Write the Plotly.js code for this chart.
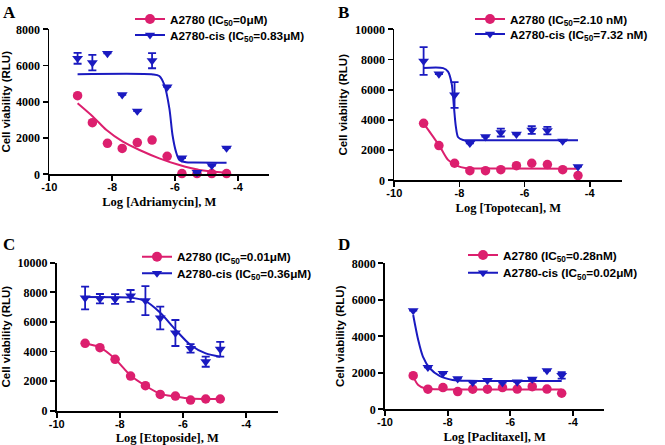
<!DOCTYPE html>
<html>
<head>
<meta charset="utf-8">
<script src="https://cdn.plot.ly/plotly-3.0.1.min.js"></script>
<style>html,body{margin:0;padding:0;background:#fff;}#chart{width:665px;height:445px;}</style>
</head>
<body>
<div id="chart"></div>
<script>
// ---------- data ----------
const logConc = [-9.10, -8.63, -8.15, -7.68, -7.20, -6.73, -6.25, -5.78, -5.30, -4.83, -4.36];
const logConcEto = [-9.10, -8.63, -8.15, -7.66, -7.19, -6.72, -6.24, -5.76, -5.28, -4.82];

// A: Adriamycin
const adriaA2780 = [4340, 2850, 1710, 1430, 1750, 1890, 990, 40, 40, 40, 40];
const adriaCis = [6400, 6160, 6670, 4390, 3490, 6270, 4820, 900, 100, 480, 1450];
const adriaCisErr = [300, 430, 0, 0, 0, 420, 0, 0, 0, 0, 0];
const adriaFitRedX = [-9.10, -8.61, -8.18, -7.66, -7.13, -6.50, -5.86, -5.23, -4.36];
const adriaFitRedY = [3920, 3180, 2440, 1800, 1340, 880, 510, 240, 90];
const adriaFitBlueX = [-9.10, -6.70, -6.50, -6.34, -6.18, -6.08, -5.97, -5.86, -5.65, -5.40, -4.36];
const adriaFitBlueY = [5520, 5510, 5420, 4930, 3640, 2170, 1250, 790, 660, 645, 640];

// B: Topotecan
const topoA2780 = [3770, 2300, 1130, 640, 640, 700, 970, 1130, 1040, 700, 310];
const topoCis = [7900, 7040, 5650, 2450, 2890, 3160, 3050, 3330, 3290, 2600, 900];
const topoCisErr = [920, 0, 850, 0, 0, 260, 0, 250, 250, 0, 0];
const topoFitRedX = [-9.10, -8.81, -8.60, -8.35, -8.09, -7.79, -7.40, -4.36];
const topoFitRedY = [3770, 2890, 2230, 1350, 970, 800, 785, 770];
const topoFitBlueX = [-9.10, -8.50, -8.35, -8.24, -8.17, -8.11, -8.04, -7.89, -7.60, -4.36];
const topoFitBlueY = [7440, 7430, 7200, 6420, 4880, 3550, 2850, 2670, 2660, 2660];

// C: Etoposide
const etoA2780 = [4550, 4260, 3470, 2340, 1690, 1100, 990, 720, 790, 790];
const etoCis = [7615, 7565, 7545, 7755, 7440, 6265, 5250, 4210, 3310, 4155];
const etoCisErr = [770, 320, 330, 400, 980, 770, 880, 290, 340, 500];
const etoFitRedX = [-9.10, -8.63, -8.15, -7.66, -7.19, -6.72, -6.24, -5.76, -5.28, -4.82];
const etoFitRedY = [4540, 4280, 3500, 2380, 1690, 1140, 960, 820, 790, 785];
const etoFitBlueX = [-9.10, -8.15, -7.65, -7.19, -6.72, -6.24, -5.76, -5.28, -4.82];
const etoFitBlueY = [7680, 7670, 7640, 7400, 6620, 5480, 4440, 3870, 3650];

// D: Paclitaxel
const paclA2780 = [1840, 1100, 1190, 970, 1100, 1100, 1190, 1110, 1240, 1110, 880];
const paclCis = [5410, 2300, 1970, 1680, 1480, 1590, 1460, 1500, 1660, 2120, 1860];
const paclCisErr = [0, 0, 0, 0, 0, 0, 0, 0, 0, 0, 180];
const paclFitRedX = [-9.10, -8.94, -8.73, -8.36, -7.80, -4.36];
const paclFitRedY = [1790, 1330, 1150, 1100, 1090, 1080];
const paclFitBlueX = [-9.10, -8.94, -8.79, -8.57, -8.26, -7.84, -7.31, -4.36];
const paclFitBlueY = [5170, 3800, 2890, 2250, 1830, 1610, 1560, 1550];

const xTicks = [-10, -8, -6, -4];
const panelLetters = ['A', 'B', 'C', 'D'];
const drugNames = ['Adriamycin', 'Topotecan', 'Etoposide', 'Paclitaxel'];
const legendRed = ['A2780 (IC<sub>50</sub>=0μM)', 'A2780 (IC<sub>50</sub>=2.10 nM)', 'A2780 (IC<sub>50</sub>=0.01μM)', 'A2780 (IC<sub>50</sub>=0.28nM)'];
const legendBlue = ['A2780-cis (IC<sub>50</sub>=0.83μM)', 'A2780-cis (IC<sub>50</sub>=7.32 nM)', 'A2780-cis (IC<sub>50</sub>=0.36μM)', 'A2780-cis (IC<sub>50</sub>=0.02μM)'];
const yMax = [8000, 10000, 10000, 8000];

// ---------- styling ----------
const RED = '#DC1F6E';
const BLUE = '#1A1AC0';
const W = 665, H = 445;
// plot areas in pixels [x0, x1, yTop, yBottom]
const areas = [[49.3, 269.3, 29.3, 174.3], [394.3, 622.3, 29.3, 180.3], [56.7, 277.7, 262.7, 410.7], [385, 604.3, 263.3, 409.3]];
const letterPos = [[1, 1], [336, 1], [1, 233], [336, 233]];
const legendPos = [[170, 19, 35], [510, 19, 34], [177, 256.7, 273.3], [503, 255, 272.7]];

const panels = [
  {x: logConc, red: adriaA2780, blue: adriaCis, err: adriaCisErr, frx: adriaFitRedX, fry: adriaFitRedY, fbx: adriaFitBlueX, fby: adriaFitBlueY},
  {x: logConc, red: topoA2780, blue: topoCis, err: topoCisErr, frx: topoFitRedX, fry: topoFitRedY, fbx: topoFitBlueX, fby: topoFitBlueY},
  {x: logConcEto, red: etoA2780, blue: etoCis, err: etoCisErr, frx: etoFitRedX, fry: etoFitRedY, fbx: etoFitBlueX, fby: etoFitBlueY},
  {x: logConc, red: paclA2780, blue: paclCis, err: paclCisErr, frx: paclFitRedX, fry: paclFitRedY, fbx: paclFitBlueX, fby: paclFitBlueY}
];

const traces = [];
const layout = {
  width: W, height: H,
  margin: {l: 0, r: 0, t: 0, b: 0},
  paper_bgcolor: '#fff', plot_bgcolor: 'rgba(0,0,0,0)',
  showlegend: true,
  annotations: []
};

panels.forEach((p, i) => {
  const n = i === 0 ? '' : String(i + 1);
  const xa = 'x' + n, ya = 'y' + n;
  const a = areas[i];
  layout['xaxis' + n] = {
    domain: [a[0] / W, a[1] / W], anchor: ya,
    range: [-10, -3], tickvals: xTicks, ticktext: xTicks.map(String),
    showline: true, linecolor: '#000', linewidth: 1.8,
    ticks: 'outside', ticklen: 5, tickwidth: 1.8, tickcolor: '#000',
    ticklabelstandoff: -3,
    showgrid: false, zeroline: false,
    tickfont: {family: 'Liberation Sans, Arial, sans-serif', size: 11, color: '#000', weight: 'bold'},
    title: {text: 'Log [' + drugNames[i] + '], M', standoff: 5,
            font: {family: 'Liberation Serif, Times New Roman, serif', size: 12.5, color: '#000', weight: 'bold'}}
  };
  layout['yaxis' + n] = {
    domain: [1 - a[3] / H, 1 - a[2] / H], anchor: xa,
    range: [0, yMax[i]], dtick: 2000, tickformat: 'd',
    showline: true, linecolor: '#000', linewidth: 1.8,
    ticks: 'outside', ticklen: 5, tickwidth: 1.8, tickcolor: '#000',
    showgrid: false, zeroline: false,
    tickfont: {family: 'Liberation Serif, Times New Roman, serif', size: 12, color: '#000', weight: 'bold'},
    title: {text: 'Cell viability (RLU)', standoff: 5,
            font: {family: 'Liberation Sans, Arial, sans-serif', size: 11.5, color: '#000', weight: 'bold'}}
  };

  traces.push({type: 'scatter', mode: 'lines', x: p.frx, y: p.fry, xaxis: xa, yaxis: ya,
    line: {color: RED, width: 2, shape: 'spline', smoothing: 0.8}, showlegend: false, hoverinfo: 'skip'});
  traces.push({type: 'scatter', mode: 'lines', x: p.fbx, y: p.fby, xaxis: xa, yaxis: ya,
    line: {color: BLUE, width: 2, shape: 'spline', smoothing: 0.8}, showlegend: false, hoverinfo: 'skip'});
  traces.push({type: 'scatter', mode: 'markers', x: p.x, y: p.red, xaxis: xa, yaxis: ya,
    marker: {color: RED, size: 9.5, symbol: 'circle'}, showlegend: false, cliponaxis: false});
  traces.push({type: 'scatter', mode: 'markers', x: p.x, y: p.blue, xaxis: xa, yaxis: ya,
    marker: {color: BLUE, size: 9.5, symbol: 'triangle-down'}, showlegend: false, cliponaxis: false,
    error_y: {type: 'data', array: p.err, visible: true, color: BLUE, thickness: 1.8, width: 4}});

  // legends: one per row so row positions match
  const lp = legendPos[i];
  const lgR = 'legend' + (2 * i === 0 ? '' : String(2 * i + 1));
  const lgB = 'legend' + String(2 * i + 2);
  traces.push({type: 'scatter', mode: 'lines+markers', x: [null], y: [null], xaxis: xa, yaxis: ya,
    name: legendRed[i], legend: lgR, line: {color: RED, width: 2}, marker: {color: RED, size: 10, symbol: 'circle'}});
  traces.push({type: 'scatter', mode: 'lines+markers', x: [null], y: [null], xaxis: xa, yaxis: ya,
    name: legendBlue[i], legend: lgB, line: {color: BLUE, width: 2}, marker: {color: BLUE, size: 9, symbol: 'triangle-down'}});
  const lgFont = {family: 'Liberation Sans, Arial, sans-serif', size: 11.8, color: '#000', weight: 'bold'};
  layout[lgR] = {x: (lp[0] - 40) / W, y: 1 - lp[1] / H, xanchor: 'left', yanchor: 'middle',
    bgcolor: 'rgba(0,0,0,0)', borderwidth: 0, font: lgFont};
  layout[lgB] = {x: (lp[0] - 40) / W, y: 1 - lp[2] / H, xanchor: 'left', yanchor: 'middle',
    bgcolor: 'rgba(0,0,0,0)', borderwidth: 0, font: lgFont};

  layout.annotations.push({text: panelLetters[i], xref: 'paper', yref: 'paper',
    x: letterPos[i][0] / W, y: 1 - letterPos[i][1] / H, xanchor: 'left', yanchor: 'top', showarrow: false,
    font: {family: 'Liberation Serif, Times New Roman, serif', size: 17, color: '#000', weight: 'bold'}});
});

Plotly.newPlot('chart', traces, layout, {displayModeBar: false, staticPlot: true});
</script>
</body>
</html>
